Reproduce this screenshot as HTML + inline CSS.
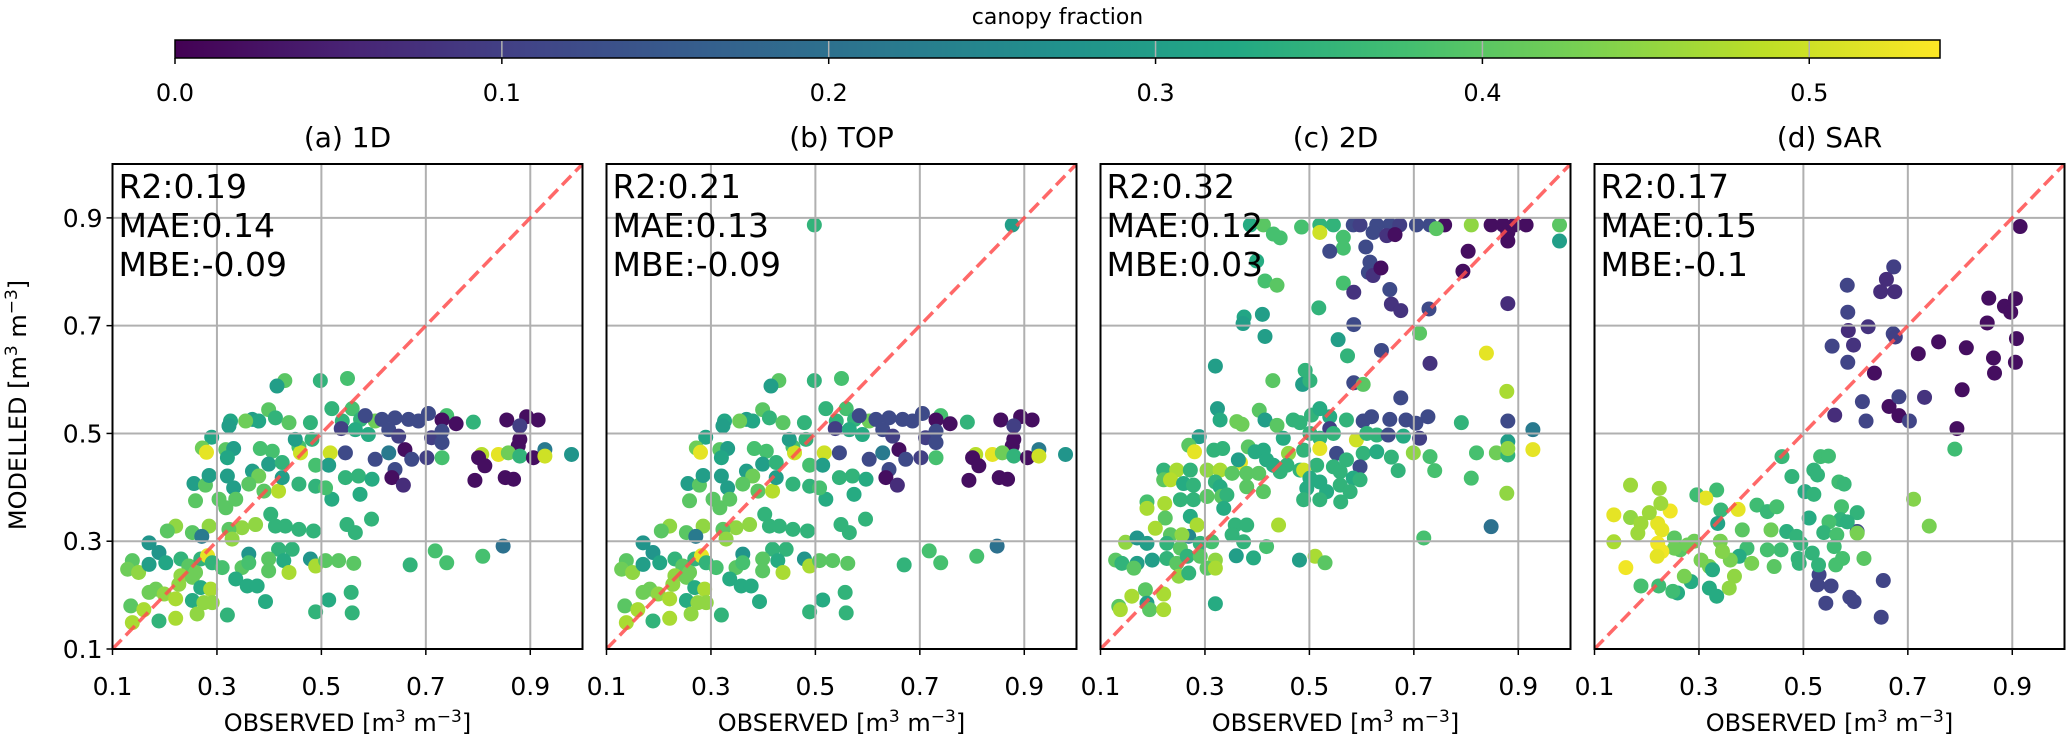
<!DOCTYPE html>
<html><head><meta charset="utf-8"><style>
body{margin:0;background:#fff;}
svg{display:block;font-family:"DejaVu Sans","Liberation Sans",sans-serif;}
</style></head><body>
<svg id="fig" width="2067" height="741" viewBox="0 0 2067 741" xmlns="http://www.w3.org/2000/svg"></svg>
<script>
// ---------- data ----------
const cbTicks=[0.0,0.1,0.2,0.3,0.4,0.5];
const cbMax=0.54;
const axTicks=[0.1,0.3,0.5,0.7,0.9];
const titles=["(a) 1D","(b) TOP","(c) 2D","(d) SAR"];
const statsR2=["R2:0.19","R2:0.21","R2:0.32","R2:0.17"];
const statsMAE=["MAE:0.14","MAE:0.13","MAE:0.12","MAE:0.15"];
const statsMBE=["MBE:-0.09","MBE:-0.09","MBE:0.03","MBE:-0.1"];

// panel (a) 1D
const obsA=[.43,.415,.498,.55,.326,.323,.368,.38,.399,.412,.355,.438,.479,.52,.559,.54,.575,.603,.584,.616,.641,.667,.686,.705,.74,.731,.758,.791,.855,.893,.915,.88,.29,.538,.565,.59,.629,.648,.711,.731,.731,.88,.877,.928,.979,.807,.839,.858,.88,.906,.801,.928,.272,.28,.317,.332,.32,.383,.406,.399,.425,.457,.46,.45,.482,.517,.489,.514,.546,.603,.629,.641,.66,.673,.702,.731,.635,.657,.813,.794,.852,.868,.256,.278,.285,.32,.332,.368,.38,.361,.39,.418,.425,.457,.489,.52,.546,.571,.597,.574,.508,.259,.304,.336,.317,.403,.412,.431,.457,.485,.549,.565,.596,.374,.348,.323,.285,.221,.205,.253,.271,.17,.329,.361,.418,.444,.479,.489,.508,.533,.562,.67,.718,.74,.809,.848,.138,.129,.15,.17,.189,.202,.231,.246,.269,.259,.282,.291,.31,.348,.361,.399,.399,.428,.438,.231,.253,.336,.358,.377,.269,.288,.227,.183,.17,.199,.221,.253,.291,.393,.514,.557,.559,.489,.32,.135,.16,.189,.221,.262,.138,.275];
const modA=[.598,.588,.598,.602,.523,.514,.526,.523,.544,.529,.523,.52,.52,.546,.546,.523,.526,.523,.533,.526,.529,.526,.523,.537,.533,.525,.518,.521,.525,.531,.525,.514,.493,.509,.507,.498,.507,.495,.492,.504,.483,.489,.477,.47,.461,.461,.461,.464,.458,.455,.455,.458,.473,.465,.47,.472,.455,.472,.467,.443,.446,.475,.464,.489,.489,.464,.441,.441,.464,.452,.464,.433,.47,.452,.455,.455,.418,.404,.44,.413,.418,.415,.407,.404,.422,.421,.399,.43,.421,.406,.393,.393,.418,.406,.402,.378,.418,.421,.415,.387,.399,.375,.378,.378,.362,.35,.328,.328,.322,.319,.331,.316,.341,.331,.325,.322,.328,.328,.319,.316,.309,.297,.304,.276,.285,.285,.267,.254,.264,.264,.259,.256,.282,.26,.272,.291,.264,.248,.242,.257,.279,.26,.267,.254,.267,.242,.273,.26,.251,.251,.26,.267,.245,.264,.242,.236,.233,.23,.217,.217,.214,.211,.22,.211,.205,.202,.193,.19,.186,.188,.191,.205,.167,.169,.163,.18,.173,.152,.157,.165,.149,.186];
const cfA=[.40,.30,.35,.38,.32,.30,.30,.32,.40,.35,.42,.40,.35,.35,.38,.35,.35,.42,.12,.12,.12,.12,.12,.12,.38,.02,.02,.35,.02,.02,.02,.10,.32,.10,.33,.33,.12,.10,.10,.12,.12,.02,.02,.22,.28,.48,.52,.42,.35,.02,.02,.50,.42,.52,.40,.30,.32,.38,.38,.30,.35,.38,.50,.30,.35,.50,.38,.30,.12,.12,.22,.12,.02,.12,.10,.38,.02,.07,.02,.02,.02,.02,.30,.40,.30,.30,.30,.30,.42,.40,.40,.48,.30,.35,.35,.33,.35,.35,.33,.33,.38,.40,.40,.40,.40,.35,.35,.35,.35,.35,.35,.35,.35,.45,.45,.40,.45,.45,.40,.40,.22,.28,.45,.28,.35,.35,.28,.47,.40,.40,.40,.35,.38,.38,.38,.20,.40,.42,.45,.30,.28,.32,.35,.40,.35,.42,.52,.35,.38,.40,.38,.40,.40,.33,.47,.45,.42,.33,.33,.33,.33,.47,.45,.42,.42,.45,.47,.33,.45,.33,.33,.35,.35,.35,.35,.40,.47,.35,.47,.45,.47,.45];

// panel (b) TOP — same stations as (a) plus two high-modelled sites
const obsB=obsA.concat([.498,.877]);
const modB=modA.concat([.887,.887]);
const cfB=cfA.concat([.35,.30]);

// panel (c) 2D
const obsC=[.387,.412,.485,.52,.546,.52,.584,.597,.629,.654,.673,.705,.731,.759,.81,.848,.871,.893,.915,.979,.979,.88,.88,.743,.622,.648,.664,.431,.444,.565,.565,.539,.608,.804,.794,.616,.613,.622,.637,.399,.415,.438,.565,.585,.654,.657,.675,.729,.88,.518,.41,.375,.373,.585,.415,.555,.711,.573,.638,.839,.731,.32,.492,.487,.501,.43,.585,.603,.878,.675,.324,.329,.404,.361,.371,.415,.438,.469,.482,.504,.52,.539,.539,.571,.603,.619,.654,.685,.704,.727,.791,.88,.928,.289,.45,.501,.52,.546,.59,.61,.629,.651,.68,.711,.88,.269,.28,.317,.334,.383,.396,.412,.46,.489,.52,.552,.603,.629,.657,.699,.731,.82,.858,.88,.88,.928,.368,.364,.418,.431,.457,.482,.514,.546,.571,.597,.67,.74,.221,.246,.272,.304,.329,.352,.38,.403,.444,.489,.501,.52,.559,.584,.597,.81,.221,.234,.259,.278,.32,.329,.38,.412,.495,.533,.559,.578,.253,.278,.304,.332,.342,.878,.189,.189,.223,.489,.52,.56,.336,.224,.272,.205,.285,.358,.38,.441,.848,.234,.269,.256,.352,.148,.17,.189,.227,.253,.291,.313,.374,.418,.719,.129,.141,.17,.199,.227,.246,.266,.291,.32,.36,.393,.481,.511,.53,.164,.304,.25,.269,.32,.186,.16,.221,.189,.135,.138,.194,.221,.32];
const modC=[.887,.887,.883,.887,.887,.873,.887,.887,.887,.887,.887,.887,.887,.887,.887,.887,.887,.887,.887,.887,.857,.857,.873,.88,.873,.867,.869,.87,.863,.864,.844,.838,.846,.838,.801,.818,.799,.793,.807,.82,.783,.775,.779,.762,.767,.74,.728,.731,.741,.733,.721,.716,.704,.702,.68,.674,.686,.644,.654,.649,.63,.625,.617,.591,.598,.598,.594,.591,.578,.566,.546,.525,.543,.522,.517,.525,.515,.525,.52,.534,.546,.531,.509,.525,.523,.531,.526,.525,.519,.531,.52,.523,.507,.494,.491,.5,.491,.5,.488,.5,.497,.497,.495,.491,.485,.478,.466,.469,.472,.475,.466,.469,.463,.469,.472,.463,.463,.466,.456,.464,.457,.464,.464,.46,.472,.47,.446,.451,.451,.441,.441,.432,.441,.438,.451,.438,.431,.431,.432,.432,.432,.432,.432,.426,.426,.426,.429,.432,.417,.41,.429,.417,.414,.417,.414,.414,.407,.404,.41,.401,.401,.392,.398,.392,.404,.392,.377,.377,.383,.383,.386,.389,.373,.361,.37,.377,.377,.373,.361,.343,.346,.324,.33,.33,.33,.33,.327,.312,.309,.312,.312,.298,.306,.296,.296,.287,.296,.299,.299,.29,.306,.265,.259,.259,.265,.268,.259,.272,.272,.265,.273,.269,.265,.272,.26,.25,.25,.235,.241,.25,.21,.198,.202,.185,.179,.173,.173,.173,.184];
const cfC=[.33,.40,.38,.35,.35,.50,.12,.10,.12,.12,.10,.12,.12,.02,.45,.02,.02,.02,.02,.40,.30,.02,.02,.40,.12,.08,.02,.38,.38,.38,.38,.12,.12,.02,.02,.12,.12,.08,.02,.33,.38,.40,.38,.08,.12,.08,.08,.12,.07,.35,.30,.32,.30,.12,.30,.30,.40,.35,.12,.52,.08,.30,.35,.30,.35,.40,.12,.40,.47,.12,.30,.33,.40,.42,.42,.30,.40,.35,.35,.35,.33,.33,.10,.35,.12,.12,.12,.12,.12,.12,.35,.12,.22,.30,.33,.35,.35,.35,.50,.35,.35,.12,.33,.10,.30,.40,.52,.35,.35,.40,.33,.33,.45,.35,.52,.12,.35,.33,.35,.45,.38,.38,.42,.35,.45,.52,.52,.30,.33,.33,.35,.35,.35,.35,.35,.12,.35,.38,.35,.47,.35,.45,.47,.40,.40,.40,.35,.50,.33,.33,.35,.33,.35,.38,.40,.48,.33,.35,.35,.33,.40,.40,.33,.33,.35,.35,.35,.35,.40,.40,.35,.45,.38,.47,.47,.35,.35,.35,.33,.40,.33,.47,.47,.35,.35,.47,.20,.40,.25,.45,.35,.45,.28,.30,.35,.40,.35,.38,.35,.38,.38,.40,.35,.30,.30,.35,.40,.35,.40,.45,.30,.33,.30,.47,.40,.40,.40,.45,.35,.47,.40,.47,.47,.30,.40,.47,.40,.47,.33];

// panel (d) SAR
const obsD=[.915,.855,.885,.906,.897,.852,.908,.759,.812,.72,.864,.906,.866,.636,.804,.664,.683,.794,.673,.659,.648,.675,.584,.585,.624,.586,.672,.676,.555,.596,.585,.613,.683,.732,.56,.62,.703,.53,.527,.553,.543,.589,.597,.653,.649,.603,.79,.711,.741,.459,.533,.548,.478,.52,.527,.568,.578,.503,.52,.296,.334,.342,.411,.431,.449,.511,.573,.603,.571,.549,.584,.336,.383,.438,.468,.487,.539,.564,.603,.495,.559,.575,.616,.562,.529,.517,.49,.492,.457,.431,.392,.377,.36,.401,.444,.368,.358,.341,.345,.304,.32,.326,.285,.32,.334,.272,.259,.25,.223,.189,.253,.264,.278,.291,.253,.137,.313,.375,.245,.221,.229,.221,.229,.22,.16,.169,.224,.227,.205,.169,.189,.183,.137];
const modD=[.884,.751,.736,.75,.725,.705,.676,.67,.659,.648,.64,.632,.612,.612,.581,.55,.533,.509,.809,.786,.763,.763,.775,.725,.698,.691,.685,.679,.662,.664,.632,.559,.568,.567,.534,.523,.523,.238,.219,.217,.185,.196,.188,.227,.159,.318,.471,.378,.328,.457,.457,.458,.42,.432,.423,.41,.406,.392,.387,.386,.395,.358,.367,.355,.364,.343,.364,.353,.34,.336,.336,.333,.321,.321,.318,.309,.316,.312,.315,.296,.29,.268,.268,.256,.256,.278,.268,.259,.284,.284,.287,.272,.265,.259,.253,.235,.213,.3,.281,.265,.253,.247,.225,.213,.198,.235,.204,.207,.217,.217,.306,.284,.293,.3,.287,.349,.38,.359,.356,.333,.321,.296,.281,.272,.251,.404,.398,.37,.353,.344,.333,.315,.299];
const cfD=[.02,.02,.02,.02,.02,.02,.02,.02,.02,.02,.02,.02,.02,.02,.02,.02,.02,.02,.10,.07,.07,.07,.11,.11,.08,.07,.11,.10,.11,.08,.11,.11,.11,.08,.07,.11,.11,.11,.11,.11,.11,.11,.11,.11,.11,.12,.37,.44,.43,.36,.37,.37,.35,.35,.35,.37,.36,.33,.35,.37,.37,.36,.37,.36,.38,.33,.38,.35,.35,.38,.34,.31,.40,.42,.34,.35,.35,.38,.43,.35,.37,.38,.40,.38,.35,.35,.35,.35,.37,.38,.37,.33,.43,.43,.40,.45,.45,.43,.44,.43,.43,.33,.33,.33,.33,.43,.33,.37,.37,.38,.40,.40,.42,.42,.42,.52,.52,.52,.53,.52,.52,.53,.53,.52,.53,.46,.46,.46,.46,.45,.46,.46,.47];

const panelObs=[obsA,obsB,obsC,obsD];
const panelMod=[modA,modB,modC,modD];
const panelCf=[cfA,cfB,cfC,cfD];
const panelNames=["panel-1d","panel-top","panel-2d","panel-sar"];

// ---------- drawing ----------
const NS="http://www.w3.org/2000/svg";
const svg=document.getElementById('fig');
function mk(tag,attrs,parent){const e=document.createElementNS(NS,tag);for(const k in attrs)e.setAttribute(k,attrs[k]);(parent||svg).appendChild(e);return e;}
const VIR=["#440154","#482475","#414487","#355f8d","#2a788e","#21918c","#22a884","#44bf70","#7ad151","#bddf26","#fde725"];
function hex(h){return [parseInt(h.substr(1,2),16),parseInt(h.substr(3,2),16),parseInt(h.substr(5,2),16)];}
function viridis(t){t=Math.max(0,Math.min(1,t));const f=t*10,i=Math.min(9,Math.floor(f)),r=f-i;const a=hex(VIR[i]),b=hex(VIR[i+1]);return "rgb("+a.map((v,k)=>Math.round(v+(b[k]-v)*r)).join(",")+")";}

// colorbar
const cbL=175,cbR=1940,cbT=40,cbB=58;
const cbX=v=>cbL+(v/cbMax)*(cbR-cbL);
const defs=mk('defs',{});
const grad=mk('linearGradient',{id:'vir',x1:'0',x2:'1',y1:'0',y2:'0'},defs);
for(let i=0;i<=10;i++){mk('stop',{offset:(i*10)+'%','stop-color':VIR[i]},grad);}
const cbLabel=mk('text',{x:(cbL+cbR)/2,y:24,'text-anchor':'middle','font-size':22,fill:'#000'});
cbLabel.textContent="canopy fraction";


const cbBar=mk('rect',{x:cbL,y:cbT,width:cbR-cbL,height:cbB-cbT,fill:'url(#vir)',stroke:'#000','stroke-width':1.5});


cbTicks.forEach(v=>{
  const x=cbX(v);
  if(v>0){const g=mk('line',{x1:x,x2:x,y1:cbT+1,y2:cbB-1,stroke:'#b0b0b0','stroke-width':1.5});
    
    }
  const t=mk('line',{x1:x,x2:x,y1:cbB,y2:cbB+6,stroke:'#000','stroke-width':1.5});
  
  
  const l=mk('text',{x:x,y:101,'text-anchor':'middle','font-size':24,fill:'#000'});
  l.textContent=v.toFixed(1);
  
  
});

// panels
const pT=164,pB=649,pW=470,lefts=[112.5,606.5,1100.5,1594.5];
for(let p=0;p<4;p++){
  const L=lefts[p],R=L+pW;
  const xs=v=>L+(v-0.1)/0.9*pW;
  const ys=v=>pB-(v-0.1)/0.9*(pB-pT);
  const g=mk('g',{});
  
  
  const clip=mk('clipPath',{id:'clip'+p},defs);
  mk('rect',{x:L,y:pT,width:pW,height:pB-pT},clip);
  const pts=mk('g',{'clip-path':'url(#clip'+p+')'},g);
  
  
  const ob=panelObs[p],md=panelMod[p],cf=panelCf[p];
  for(let i=0;i<ob.length;i++){
    const c=mk('circle',{cx:xs(ob[i]),cy:ys(md[i]),r:7.5,fill:viridis(cf[i]/cbMax)},pts);
    
    
  }
  axTicks.forEach(v=>{
    const gx=mk('line',{x1:xs(v),x2:xs(v),y1:pT,y2:pB,stroke:'#b0b0b0','stroke-width':2},g);
    
    
    const gy=mk('line',{x1:L,x2:R,y1:ys(v),y2:ys(v),stroke:'#b0b0b0','stroke-width':2},g);
    
    
  });
  const one=mk('line',{x1:xs(0.1),y1:ys(0.1),x2:xs(1.0),y2:ys(1.0),stroke:'#ff4d4d','stroke-opacity':0.85,'stroke-width':3.5,'stroke-dasharray':'13,6','clip-path':'url(#clip'+p+')'},g);
  
  
  const fr=mk('rect',{x:L,y:pT,width:pW,height:pB-pT,fill:'none',stroke:'#000','stroke-width':2},g);
  
  
  axTicks.forEach(v=>{
    const tx=mk('line',{x1:xs(v),x2:xs(v),y1:pB,y2:pB+6,stroke:'#000','stroke-width':1.5},g);
    
    
    const lx=mk('text',{x:xs(v),y:695,'text-anchor':'middle','font-size':25,fill:'#000'},g);
    lx.textContent=v.toFixed(1);
    
    
    if(p===0){
      const ty=mk('line',{x1:L-6,x2:L,y1:ys(v),y2:ys(v),stroke:'#000','stroke-width':1.5},g);
      
      
      const ly=mk('text',{x:L-10,y:ys(v)+9,'text-anchor':'end','font-size':25,fill:'#000'},g);
      ly.textContent=v.toFixed(1);
      
      
    }
  });
  const tt=mk('text',{x:L+pW/2,y:147,'text-anchor':'middle','font-size':28,fill:'#000'},g);
  tt.textContent=titles[p];
  
  
  [statsR2[p],statsMAE[p],statsMBE[p]].forEach((s,k)=>{
    const st=mk('text',{x:L+6,y:198+k*39,'font-size':33,fill:'#000'},g);
    st.textContent=s;
    
    
  });
  const xl=mk('text',{x:L+pW/2,y:731,'text-anchor':'middle','font-size':24,fill:'#000'},g);
  xl.innerHTML='OBSERVED [m<tspan dy="-9" font-size="17">3</tspan><tspan dy="9"> m</tspan><tspan dy="-9" font-size="17">−3</tspan><tspan dy="9">]</tspan>';
  
  
}
const yl=mk('text',{x:0,y:0,'text-anchor':'middle','font-size':24,fill:'#000',transform:'translate(26,405) rotate(-90)'});
yl.innerHTML='MODELLED [m<tspan dy="-9" font-size="17">3</tspan><tspan dy="9"> m</tspan><tspan dy="-9" font-size="17">−3</tspan><tspan dy="9">]</tspan>';


</script>
</body></html>
